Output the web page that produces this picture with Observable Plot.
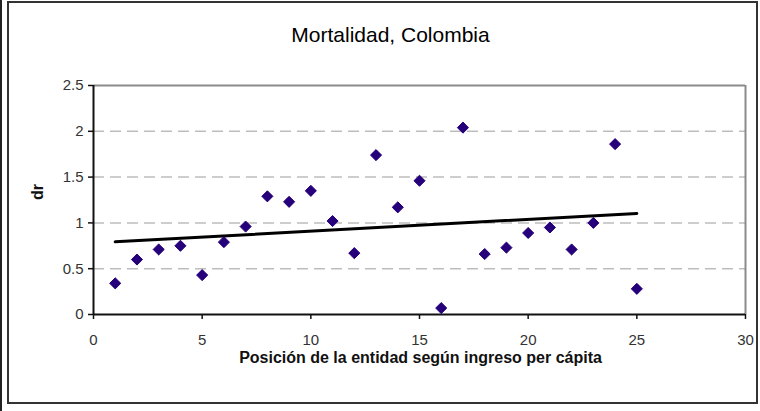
<!DOCTYPE html>
<html>
<head>
<meta charset="utf-8">
<script src="https://cdn.jsdelivr.net/npm/d3@7"></script>
<script src="https://cdn.jsdelivr.net/npm/@observablehq/plot@0.6"></script>
<style>
  html, body { margin: 0; padding: 0; background: #fff; }
  #wrap { position: relative; width: 760px; height: 411px; overflow: hidden; }
  #box { position: absolute; left: 7px; top: 1px; width: 747px; height: 399px; border: 2px solid #333; box-sizing: content-box; pointer-events: none; }
  #edge { position: absolute; left: 0; top: 0; width: 2px; height: 411px; background: #222; }
</style>
</head>
<body>
<div id="wrap"><div id="edge"></div><div id="box"></div></div>
<script>
const title = "Mortalidad, Colombia";
const xLabel = "Posición de la entidad según ingreso per cápita";
const yLabel = "dr";
const position = [1,2,3,4,5,6,7,8,9,10,11,12,13,14,15,16,17,18,19,20,21,22,23,24,25];
const dr = [0.34,0.60,0.71,0.75,0.43,0.79,0.96,1.29,1.23,1.35,1.02,0.67,1.74,1.17,1.46,0.07,2.04,0.66,0.73,0.89,0.95,0.71,1.00,1.86,0.28];
const xTicks = [0,5,10,15,20,25,30];
const yTicks = [0,0.5,1,1.5,2,2.5];
const gridLines = [0.5,1,1.5,2];

const data = position.map((p, i) => ({x: p, y: dr[i]}));
const font = "'Liberation Sans', Arial, sans-serif";

const chart = Plot.plot({
  width: 760,
  height: 411,
  marginLeft: 93,
  marginRight: 15,
  marginTop: 85,
  marginBottom: 97,
  style: {fontFamily: font, background: "transparent", overflow: "visible"},
  x: {domain: [0, 30]},
  y: {domain: [0, 2.5]},
  marks: [
    Plot.ruleY(gridLines, {stroke: "#bdbdbd", strokeWidth: 1.5, strokeDasharray: "11,6"}),
    Plot.ruleY([2.5], {stroke: "#8a8a8a", strokeWidth: 2}),
    Plot.ruleX([30], {stroke: "#8a8a8a", strokeWidth: 2}),
    Plot.axisX({ticks: xTicks, tickSize: 5, tickPadding: 15, fontSize: 15, tickFormat: d => String(d), color: "#333", stroke: "#111", strokeWidth: 1.5, label: null}),
    Plot.axisY({ticks: yTicks, tickSize: 5, tickPadding: 5, fontSize: 15, tickFormat: d => String(d), color: "#333", stroke: "#111", strokeWidth: 1.5, label: null}),
    Plot.ruleY([0], {stroke: "#111", strokeWidth: 2}),
    Plot.ruleX([0], {stroke: "#111", strokeWidth: 2}),
    Plot.linearRegressionY(data, {x: "x", y: "y", stroke: "#000", strokeWidth: 3, ci: 0}),
    Plot.dot(data, {x: "x", y: "y", symbol: "diamond2", r: 5, fill: "#25007a", stroke: "#25007a", strokeWidth: 1}),
    Plot.text([title], {frameAnchor: "top", dx: -29, dy: -58, fontSize: 21, fill: "#000", fontFamily: font}),
    Plot.text([xLabel], {frameAnchor: "bottom", dx: 1, dy: 48, fontSize: 16, fontWeight: "bold", fill: "#111", fontFamily: font}),
    Plot.text([yLabel], {frameAnchor: "left", dx: -56, rotate: -90, fontSize: 16, fontWeight: "bold", fill: "#111", fontFamily: font})
  ]
});
document.getElementById("wrap").appendChild(chart);
chart.style.position = "absolute";
chart.style.left = "0";
chart.style.top = "0";
</script>
</body>
</html>
